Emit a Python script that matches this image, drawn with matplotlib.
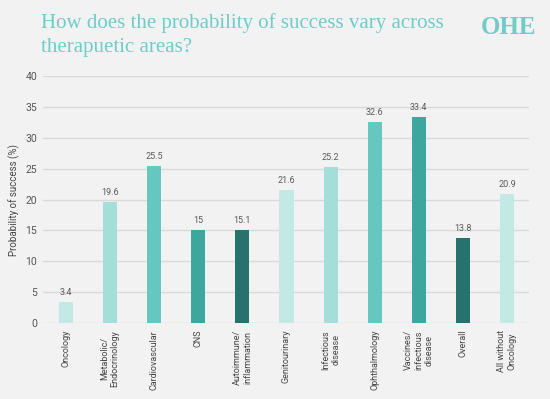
import matplotlib
matplotlib.use("Agg")
import matplotlib.pyplot as plt

categories = ["Oncology", "Metabolic/\nEndocrinology", "Cardiovascular", "CNS",
              "Autoimmune/\ninflammation", "Genitourinary", "Infectious\ndisease",
              "Ophthalmology", "Vaccines/\ninfectious\ndisease", "Overall",
              "All without\nOncology"]
values = [3.4, 19.6, 25.5, 15, 15.1, 21.6, 25.2, 32.6, 33.4, 13.8, 20.9]
value_labels = ["3.4", "19.6", "25.5", "15", "15.1", "21.6", "25.2", "32.6", "33.4", "13.8", "20.9"]
palette = ["#c3e9e5", "#a4ded9", "#66c7c1", "#3da69e", "#27726c"]
bar_colors = [palette[i % 5] for i in range(len(values))]
yticks = [0, 5, 10, 15, 20, 25, 30, 35, 40]

plt.rcParams['font.family'] = ['Roboto', 'DejaVu Sans']
bg = "#f2f2f2"
fig = plt.figure(figsize=(5.5, 3.99), dpi=100, facecolor=bg)
ax = fig.add_axes([0.078, 0.1905, 0.884, 0.619], facecolor=bg)

x = list(range(len(values)))
ax.bar(x, values, width=0.32, color=bar_colors, zorder=3)
for xi, v, lab in zip(x, values, value_labels):
    ax.text(xi, v + 0.8, lab, ha="center", va="bottom", fontsize=6.5, color="#5a5a5a")

ax.set_xlim(-0.52, 10.5)
ax.set_ylim(0, 40)
ax.set_yticks(yticks)
ax.set_yticklabels([str(t) for t in yticks], fontsize=7.5, color="#555555")
ax.set_xticks(x)
ax.set_xticklabels(categories, rotation=90, fontsize=6.5, color="#444444")
ax.tick_params(axis="both", length=0, pad=4)
ax.tick_params(axis="x", pad=5)
ax.grid(axis="y", color="#d9d9d9", linewidth=1, zorder=0)
for s in ax.spines.values():
    s.set_visible(False)
ax.set_ylabel("Probability of success (%)", fontsize=7, color="#444444", labelpad=4)

fig.text(41/550, 1-28/399, "How does the probability of success vary across",
         fontsize=15, color="#6dcdc7", family="Liberation Serif", va="baseline")
fig.text(41/550, 1-52/399, "therapuetic areas?",
         fontsize=15, color="#6dcdc7", family="Liberation Serif", va="baseline")
fig.text(508/550, 1-34/399, "OHE", fontsize=18, color="#72cbc6", family="Liberation Serif",
         fontweight="bold", ha="center", va="baseline")

fig.savefig("out.png", dpi=100, facecolor=bg)
